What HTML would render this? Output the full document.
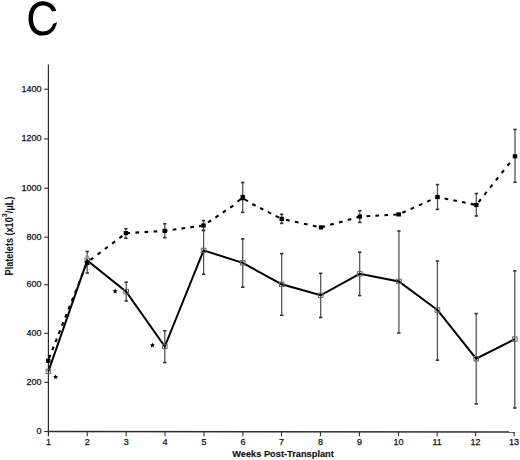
<!DOCTYPE html><html><head><meta charset="utf-8"><style>html,body{margin:0;padding:0;background:#fff;}svg{display:block;}text{font-family:"Liberation Sans",sans-serif;}</style></head><body>
<svg width="520" height="460" viewBox="0 0 520 460">
<path d="M56.2,10.7 C54.6,4.6 49.4,1.2 42.8,1.2 C34.2,1.2 28.5,8.2 28.5,18.4 C28.5,28.6 34.2,35.6 42.8,35.6 C50.2,35.6 55.6,30.6 57.0,22.3 L52.9,24.0 C51.8,28.6 47.9,31.4 42.9,31.4 C36.8,31.4 33.0,26.0 33.0,18.4 C33.0,10.8 36.8,5.4 42.9,5.4 C47.4,5.4 50.8,7.8 52.0,11.6 Z" fill="#000"/>
<g stroke="#2e2e2e" fill="none">
<line x1="48.4" y1="64.6" x2="48.4" y2="436.3" stroke-width="1.2" stroke="#2a2a2a"/>
<line x1="47.8" y1="431.5" x2="514.7" y2="432.0" stroke-width="1.5"/>
<line x1="44.2" y1="431.50" x2="48.5" y2="431.50" stroke-width="1.1"/>
<line x1="44.2" y1="382.30" x2="48.5" y2="382.30" stroke-width="1.1"/>
<line x1="44.2" y1="333.40" x2="48.5" y2="333.40" stroke-width="1.1"/>
<line x1="44.2" y1="284.70" x2="48.5" y2="284.70" stroke-width="1.1"/>
<line x1="44.2" y1="237.20" x2="48.5" y2="237.20" stroke-width="1.1"/>
<line x1="44.2" y1="188.30" x2="48.5" y2="188.30" stroke-width="1.1"/>
<line x1="44.2" y1="138.90" x2="48.5" y2="138.90" stroke-width="1.1"/>
<line x1="44.2" y1="89.20" x2="48.5" y2="89.20" stroke-width="1.1"/>
<line x1="87.20" y1="431.54" x2="87.20" y2="436.2" stroke-width="1.1"/>
<line x1="126.20" y1="431.58" x2="126.20" y2="436.2" stroke-width="1.1"/>
<line x1="165.00" y1="431.63" x2="165.00" y2="436.2" stroke-width="1.1"/>
<line x1="204.00" y1="431.67" x2="204.00" y2="436.2" stroke-width="1.1"/>
<line x1="242.90" y1="431.71" x2="242.90" y2="436.2" stroke-width="1.1"/>
<line x1="281.50" y1="431.75" x2="281.50" y2="436.2" stroke-width="1.1"/>
<line x1="320.40" y1="431.79" x2="320.40" y2="436.2" stroke-width="1.1"/>
<line x1="359.40" y1="431.83" x2="359.40" y2="436.2" stroke-width="1.1"/>
<line x1="398.50" y1="431.88" x2="398.50" y2="436.2" stroke-width="1.1"/>
<line x1="437.10" y1="431.92" x2="437.10" y2="436.2" stroke-width="1.1"/>
<line x1="475.60" y1="431.96" x2="475.60" y2="436.2" stroke-width="1.1"/>
<line x1="514.10" y1="432.00" x2="514.10" y2="436.2" stroke-width="1.1"/>
</g>
<g font-size="9" fill="#111" stroke="#111" stroke-width="0.25" text-anchor="end">
<text x="41.5" y="434.00">0</text>
<text x="41.5" y="384.80">200</text>
<text x="41.5" y="335.90">400</text>
<text x="41.5" y="287.20">600</text>
<text x="41.5" y="239.70">800</text>
<text x="41.5" y="190.80">1000</text>
<text x="41.5" y="141.40">1200</text>
<text x="41.5" y="91.70">1400</text>
</g>
<g font-size="9" fill="#111" stroke="#111" stroke-width="0.25" text-anchor="middle">
<text x="48.50" y="445">1</text>
<text x="87.20" y="445">2</text>
<text x="126.20" y="445">3</text>
<text x="165.00" y="445">4</text>
<text x="204.00" y="445">5</text>
<text x="242.90" y="445">6</text>
<text x="281.50" y="445">7</text>
<text x="320.40" y="445">8</text>
<text x="359.40" y="445">9</text>
<text x="398.50" y="445">10</text>
<text x="437.10" y="445">11</text>
<text x="475.60" y="445">12</text>
<text x="514.10" y="445">13</text>
</g>
<text transform="translate(283,456.9) scale(0.975,1)" font-size="9.5" font-weight="bold" text-anchor="middle" fill="#111" stroke="#111" stroke-width="0.15">Weeks Post-Transplant</text>
<text transform="translate(12.6,275.4) rotate(-90) scale(0.911,1)" font-size="10" font-weight="bold" fill="#111">Platelets (x10<tspan font-size="8" dy="-5.5">3</tspan><tspan dy="5.5">/μL)</tspan></text>
<g fill="none">
<line x1="125.90" y1="228.7" x2="125.90" y2="238.3" stroke="#505050" stroke-width="1.25"/>
<line x1="124.20" y1="228.7" x2="127.60" y2="228.7" stroke="#333" stroke-width="1.6"/>
<line x1="124.20" y1="238.3" x2="127.60" y2="238.3" stroke="#333" stroke-width="1.6"/>
<line x1="164.80" y1="223.7" x2="164.80" y2="237.7" stroke="#505050" stroke-width="1.25"/>
<line x1="163.10" y1="223.7" x2="166.50" y2="223.7" stroke="#333" stroke-width="1.6"/>
<line x1="163.10" y1="237.7" x2="166.50" y2="237.7" stroke="#333" stroke-width="1.6"/>
<line x1="203.50" y1="220.6" x2="203.50" y2="230.4" stroke="#505050" stroke-width="1.25"/>
<line x1="201.80" y1="220.6" x2="205.20" y2="220.6" stroke="#333" stroke-width="1.6"/>
<line x1="201.80" y1="230.4" x2="205.20" y2="230.4" stroke="#333" stroke-width="1.6"/>
<line x1="242.70" y1="182.5" x2="242.70" y2="212.3" stroke="#505050" stroke-width="1.25"/>
<line x1="241.00" y1="182.5" x2="244.40" y2="182.5" stroke="#333" stroke-width="1.6"/>
<line x1="241.00" y1="212.3" x2="244.40" y2="212.3" stroke="#333" stroke-width="1.6"/>
<line x1="281.70" y1="214.3" x2="281.70" y2="223.4" stroke="#505050" stroke-width="1.25"/>
<line x1="280.00" y1="214.3" x2="283.40" y2="214.3" stroke="#333" stroke-width="1.6"/>
<line x1="280.00" y1="223.4" x2="283.40" y2="223.4" stroke="#333" stroke-width="1.6"/>
<line x1="359.80" y1="210.7" x2="359.80" y2="222.4" stroke="#505050" stroke-width="1.25"/>
<line x1="358.10" y1="210.7" x2="361.50" y2="210.7" stroke="#333" stroke-width="1.6"/>
<line x1="358.10" y1="222.4" x2="361.50" y2="222.4" stroke="#333" stroke-width="1.6"/>
<line x1="437.50" y1="184.6" x2="437.50" y2="209.4" stroke="#505050" stroke-width="1.25"/>
<line x1="435.80" y1="184.6" x2="439.20" y2="184.6" stroke="#333" stroke-width="1.6"/>
<line x1="435.80" y1="209.4" x2="439.20" y2="209.4" stroke="#333" stroke-width="1.6"/>
<line x1="476.30" y1="193.5" x2="476.30" y2="216.0" stroke="#505050" stroke-width="1.25"/>
<line x1="474.60" y1="193.5" x2="478.00" y2="193.5" stroke="#333" stroke-width="1.6"/>
<line x1="474.60" y1="216.0" x2="478.00" y2="216.0" stroke="#333" stroke-width="1.6"/>
<line x1="515.00" y1="129.5" x2="515.00" y2="182.3" stroke="#505050" stroke-width="1.25"/>
<line x1="513.30" y1="129.5" x2="516.70" y2="129.5" stroke="#333" stroke-width="1.6"/>
<line x1="513.30" y1="182.3" x2="516.70" y2="182.3" stroke="#333" stroke-width="1.6"/>
<line x1="87.20" y1="251.5" x2="87.20" y2="273" stroke="#505050" stroke-width="1.25"/>
<line x1="85.50" y1="251.5" x2="88.90" y2="251.5" stroke="#333" stroke-width="1.6"/>
<line x1="85.50" y1="273" x2="88.90" y2="273" stroke="#333" stroke-width="1.6"/>
<line x1="126.20" y1="282.2" x2="126.20" y2="300.9" stroke="#505050" stroke-width="1.25"/>
<line x1="124.50" y1="282.2" x2="127.90" y2="282.2" stroke="#333" stroke-width="1.6"/>
<line x1="124.50" y1="300.9" x2="127.90" y2="300.9" stroke="#333" stroke-width="1.6"/>
<line x1="164.80" y1="330.7" x2="164.80" y2="362.6" stroke="#505050" stroke-width="1.25"/>
<line x1="163.10" y1="330.7" x2="166.50" y2="330.7" stroke="#333" stroke-width="1.6"/>
<line x1="163.10" y1="362.6" x2="166.50" y2="362.6" stroke="#333" stroke-width="1.6"/>
<line x1="203.60" y1="230.4" x2="203.60" y2="274.3" stroke="#505050" stroke-width="1.25"/>
<line x1="201.90" y1="230.4" x2="205.30" y2="230.4" stroke="#333" stroke-width="1.6"/>
<line x1="201.90" y1="274.3" x2="205.30" y2="274.3" stroke="#333" stroke-width="1.6"/>
<line x1="242.70" y1="238.9" x2="242.70" y2="287.2" stroke="#505050" stroke-width="1.25"/>
<line x1="241.00" y1="238.9" x2="244.40" y2="238.9" stroke="#333" stroke-width="1.6"/>
<line x1="241.00" y1="287.2" x2="244.40" y2="287.2" stroke="#333" stroke-width="1.6"/>
<line x1="281.70" y1="253.6" x2="281.70" y2="315.3" stroke="#505050" stroke-width="1.25"/>
<line x1="280.00" y1="253.6" x2="283.40" y2="253.6" stroke="#333" stroke-width="1.6"/>
<line x1="280.00" y1="315.3" x2="283.40" y2="315.3" stroke="#333" stroke-width="1.6"/>
<line x1="320.70" y1="273.4" x2="320.70" y2="317.5" stroke="#505050" stroke-width="1.25"/>
<line x1="319.00" y1="273.4" x2="322.40" y2="273.4" stroke="#333" stroke-width="1.6"/>
<line x1="319.00" y1="317.5" x2="322.40" y2="317.5" stroke="#333" stroke-width="1.6"/>
<line x1="359.70" y1="252.2" x2="359.70" y2="295.6" stroke="#505050" stroke-width="1.25"/>
<line x1="358.00" y1="252.2" x2="361.40" y2="252.2" stroke="#333" stroke-width="1.6"/>
<line x1="358.00" y1="295.6" x2="361.40" y2="295.6" stroke="#333" stroke-width="1.6"/>
<line x1="398.90" y1="231" x2="398.90" y2="333" stroke="#505050" stroke-width="1.25"/>
<line x1="397.20" y1="231" x2="400.60" y2="231" stroke="#333" stroke-width="1.6"/>
<line x1="397.20" y1="333" x2="400.60" y2="333" stroke="#333" stroke-width="1.6"/>
<line x1="437.40" y1="261" x2="437.40" y2="360.2" stroke="#505050" stroke-width="1.25"/>
<line x1="435.70" y1="261" x2="439.10" y2="261" stroke="#333" stroke-width="1.6"/>
<line x1="435.70" y1="360.2" x2="439.10" y2="360.2" stroke="#333" stroke-width="1.6"/>
<line x1="476.20" y1="313.6" x2="476.20" y2="403.9" stroke="#505050" stroke-width="1.25"/>
<line x1="474.50" y1="313.6" x2="477.90" y2="313.6" stroke="#333" stroke-width="1.6"/>
<line x1="474.50" y1="403.9" x2="477.90" y2="403.9" stroke="#333" stroke-width="1.6"/>
<line x1="514.80" y1="270.9" x2="514.80" y2="408" stroke="#505050" stroke-width="1.25"/>
<line x1="513.10" y1="270.9" x2="516.50" y2="270.9" stroke="#333" stroke-width="1.6"/>
<line x1="513.10" y1="408" x2="516.50" y2="408" stroke="#333" stroke-width="1.6"/>
</g>
<g fill="none" stroke="#000" stroke-width="2.1">
<line x1="48.3" y1="360.0" x2="87.3" y2="262.2" stroke-dasharray="3.7 5.10" stroke-dashoffset="7.05"/>
<line x1="87.3" y1="262.2" x2="125.9" y2="233.2" stroke-dasharray="3.7 5.40" stroke-dashoffset="5.35"/>
<line x1="125.9" y1="233.2" x2="164.8" y2="230.9" stroke-dasharray="3.7 5.40" stroke-dashoffset="8.65"/>
<line x1="164.8" y1="230.9" x2="203.5" y2="225.5" stroke-dasharray="3.7 5.20" stroke-dashoffset="0.95"/>
<line x1="203.5" y1="225.5" x2="236.72" y2="203.21" stroke-dasharray="3.7 5.20" stroke-dashoffset="3.45"/>
<line x1="248.95" y1="202.36" x2="281.7" y2="218.9" stroke-dasharray="3.7 5.00" stroke-dashoffset="4.95"/>
<line x1="281.7" y1="218.9" x2="321.0" y2="227.4" stroke-dasharray="3.7 5.50" stroke-dashoffset="4.85"/>
<line x1="321.0" y1="227.4" x2="359.8" y2="216.6" stroke-dasharray="3.7 5.40" stroke-dashoffset="8.65"/>
<line x1="359.8" y1="216.6" x2="398.8" y2="214.4" stroke-dasharray="3.7 5.30" stroke-dashoffset="2.35"/>
<line x1="398.8" y1="214.4" x2="437.5" y2="197.0" stroke-dasharray="3.7 5.40" stroke-dashoffset="5.25"/>
<line x1="437.5" y1="197.0" x2="476.3" y2="205.0" stroke-dasharray="3.7 5.20" stroke-dashoffset="1.65"/>
<line x1="476.3" y1="205.0" x2="512.07" y2="159.98" stroke-dasharray="3.7 5.60" stroke-dashoffset="5.65"/>
</g>
<path d="M237.6,201.6 C239.3,199.6 241.1,199.0 242.7,199.0 C244.3,199.0 246.1,199.6 247.8,201.4" fill="none" stroke="#000" stroke-width="2.1"/>
<polyline points="48.4,371.4 87.2,260.5 126.2,291.7 164.8,346.5 203.6,250.4 242.7,262.8 281.7,284.3 320.7,295.3 359.7,273.8 398.9,281.4 437.4,310 476.2,358.7 514.8,339.1" fill="none" stroke="#000" stroke-width="2" stroke-linejoin="miter"/>
<rect x="46.10" y="369.20" width="4.6" height="4.4" fill="none" stroke="#666" stroke-width="1"/>
<rect x="84.90" y="258.30" width="4.6" height="4.4" fill="none" stroke="#666" stroke-width="1"/>
<rect x="123.90" y="289.50" width="4.6" height="4.4" fill="none" stroke="#666" stroke-width="1"/>
<rect x="162.50" y="344.30" width="4.6" height="4.4" fill="none" stroke="#666" stroke-width="1"/>
<rect x="201.30" y="248.20" width="4.6" height="4.4" fill="none" stroke="#666" stroke-width="1"/>
<rect x="240.40" y="260.60" width="4.6" height="4.4" fill="none" stroke="#666" stroke-width="1"/>
<rect x="279.40" y="282.10" width="4.6" height="4.4" fill="none" stroke="#666" stroke-width="1"/>
<rect x="318.40" y="293.10" width="4.6" height="4.4" fill="none" stroke="#666" stroke-width="1"/>
<rect x="357.40" y="271.60" width="4.6" height="4.4" fill="none" stroke="#666" stroke-width="1"/>
<rect x="396.60" y="279.20" width="4.6" height="4.4" fill="none" stroke="#666" stroke-width="1"/>
<rect x="435.10" y="307.80" width="4.6" height="4.4" fill="none" stroke="#666" stroke-width="1"/>
<rect x="473.90" y="356.50" width="4.6" height="4.4" fill="none" stroke="#666" stroke-width="1"/>
<rect x="512.50" y="336.90" width="4.6" height="4.4" fill="none" stroke="#666" stroke-width="1"/>
<rect x="46.10" y="358.70" width="4.4" height="4.2" fill="#000"/>
<rect x="85.10" y="260.90" width="4.4" height="4.2" fill="#000"/>
<rect x="123.70" y="231.00" width="4.4" height="4.2" fill="#000"/>
<rect x="162.60" y="228.80" width="4.4" height="4.2" fill="#000"/>
<rect x="201.30" y="223.40" width="4.4" height="4.2" fill="#000"/>
<rect x="240.50" y="194.90" width="4.4" height="4.2" fill="#000"/>
<rect x="279.50" y="216.80" width="4.4" height="4.2" fill="#000"/>
<rect x="318.80" y="225.30" width="4.4" height="4.2" fill="#000"/>
<rect x="357.60" y="214.50" width="4.4" height="4.2" fill="#000"/>
<rect x="396.60" y="212.30" width="4.4" height="4.2" fill="#000"/>
<rect x="435.30" y="194.90" width="4.4" height="4.2" fill="#000"/>
<rect x="474.10" y="202.90" width="4.4" height="4.2" fill="#000"/>
<rect x="512.80" y="154.20" width="4.4" height="4.2" fill="#000"/>
<rect x="85.3" y="255.6" width="3.8" height="3.4" fill="#999" opacity="0.8"/>
<polygon points="55.60,374.20 56.33,375.89 58.17,376.07 56.79,377.29 57.19,379.08 55.60,378.15 54.01,379.08 54.41,377.29 53.03,376.07 54.87,375.89" fill="#000"/>
<polygon points="115.10,288.50 115.83,290.19 117.67,290.37 116.29,291.59 116.69,293.38 115.10,292.45 113.51,293.38 113.91,291.59 112.53,290.37 114.37,290.19" fill="#000"/>
<polygon points="152.40,342.50 153.13,344.19 154.97,344.37 153.59,345.59 153.99,347.38 152.40,346.45 150.81,347.38 151.21,345.59 149.83,344.37 151.67,344.19" fill="#000"/>
</svg></body></html>
